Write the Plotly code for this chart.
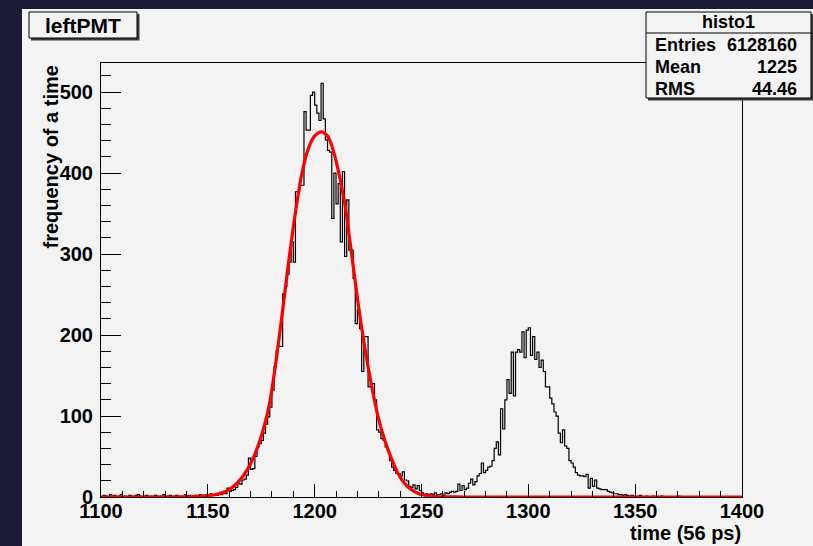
import plotly.graph_objects as go

# ---------------- data ----------------
bin_start = 1100
bin_width = 1
counts = (
    [0, 2, 1, 0, 3, 1, 2, 0, 1, 3, 0, 1, 0, 2, 1, 0, 2, 3, 1, 0,
     1, 2, 0, 1, 0, 2, 1, 0, 1, 3, 0, 1, 2, 0, 1, 2, 0, 1, 0, 3,
     1, 2, 1, 0, 2, 1, 3, 2, 1, 3, 2, 4, 3]
    + [3, 2, 4, 3, 5, 4, 11, 7, 8, 9, 12, 17, 16, 21, 22, 27]
    + [48, 34, 35, 50, 62, 66, 70, 79, 90, 99, 111, 132, 161, 181, 186, 186,
       251, 260, 275, 290, 315, 290]
    + [377, 377, 385, 385, 476, 453, 453, 496, 500, 484, 474, 465, 511, 467]
    + [441, 428, 426, 344, 400, 362, 387, 315, 402, 297, 367, 305, 305, 270,
       214, 231, 208, 155, 198, 198, 136, 140, 140, 120, 83, 80, 72, 70, 62,
       58, 45, 37, 33, 29, 29, 26, 31, 21, 20, 13, 12, 15, 10, 14, 8]
    + [5, 3, 4, 2, 4, 3, 5, 3]
    + [3, 4, 2, 5, 4, 6, 7, 6, 7, 16, 8, 14, 9, 11, 17, 22, 15, 19, 26, 29,
       42, 30, 33, 37, 38, 45, 60, 68, 52, 109, 84, 120, 145, 128, 179, 125,
       179, 182, 179, 204, 172, 206, 209, 175, 198, 170, 179, 160, 169, 155,
       136, 136]
    + [122, 115, 105, 100, 79, 67, 83, 63, 60, 45, 42, 37, 30, 27, 26, 26,
       25, 28, 11, 23, 13, 21, 11, 10, 9, 9]
    + [9, 7, 6, 5, 4, 4, 3, 3, 2, 3, 2, 1, 2, 1, 0, 1, 2, 0, 0, 1,
       0, 0, 1, 0, 0, 0, 1, 0, 0, 0, 0, 0, 0, 0, 1, 0, 0, 0, 0, 0,
       0, 0, 0, 0, 0, 0, 0, 0, 0, 0, 0, 0, 0, 0, 0, 0, 0, 0, 0, 0,
       0, 0, 0, 0]
)

# gaussian fit curve
fit_x = [1100, 1140, 1150, 1155, 1160, 1164, 1169, 1173.6, 1178.3, 1181.4,
         1184.5, 1187.7, 1190.8, 1193.9, 1197, 1200, 1203.3, 1206, 1208,
         1211, 1214.2, 1217.3, 1220.4, 1223.5, 1226.6, 1229.6, 1232.8, 1236,
         1239, 1242, 1245, 1248, 1251, 1257, 1270, 1400]
fit_y = [0, 0.2, 1.5, 4, 9, 18, 36, 64, 108, 158, 220, 288, 348, 398, 430,
         446, 451, 446, 434, 404, 360, 300, 238, 184, 138, 100, 70, 47, 29,
         17, 9.5, 5, 2.5, 0.5, 0, 0]

x_ticks = [1100, 1150, 1200, 1250, 1300, 1350, 1400]
y_ticks = [0, 100, 200, 300, 400, 500]

title_text = "leftPMT"
stats_name = "histo1"
stats_rows = [("Entries", "6128160"), ("Mean", "1225"), ("RMS", "44.46")]
x_title = "time (56 ps)"
y_title = "frequency of a time"

# ---------------- geometry ----------------
W, H = 813, 546
L, R, T, B = 101, 742, 63, 497
PW, PH = R - L, B - T


def px(x):
    return (x - L) / PW


def py(y):
    return (B - y) / PH


FONT = "Liberation Sans, Arial, Helvetica, sans-serif"
LIGHT = "#f3f3f3"
DARK = "#1b1b36"

edges = [bin_start + i * bin_width for i in range(len(counts) + 1)]
step_x = edges
step_y = counts + [counts[-1]]

fig = go.Figure()
fig.add_trace(go.Scatter(x=step_x, y=step_y, mode="lines", line_shape="hv",
                         line=dict(color="black", width=1.2), hoverinfo="skip",
                         showlegend=False))
fig.add_trace(go.Scatter(x=fit_x, y=fit_y, mode="lines", line_shape="spline",
                         line=dict(color="#ff0000", width=3.2, smoothing=0.8),
                         hoverinfo="skip", showlegend=False))

shapes = []
# light canvas over dark screenshot background
shapes.append(dict(type="rect", xref="paper", yref="paper", layer="below",
                   x0=px(22), x1=px(W + 5), y0=py(9), y1=py(H + 5),
                   fillcolor=LIGHT, line=dict(width=0)))
# title box with shadow
shapes.append(dict(type="rect", xref="paper", yref="paper", layer="above",
                   x0=px(31), x1=px(139.5), y0=py(14), y1=py(40.5),
                   fillcolor="#3a3a3a", line=dict(width=0)))
shapes.append(dict(type="rect", xref="paper", yref="paper", layer="above",
                   x0=px(29), x1=px(137), y0=py(12), y1=py(38),
                   fillcolor=LIGHT, line=dict(color="black", width=1)))
# stats box with shadow
shapes.append(dict(type="rect", xref="paper", yref="paper", layer="above",
                   x0=px(648), x1=px(813.5), y0=py(14), y1=py(100.5),
                   fillcolor="#3a3a3a", line=dict(width=0)))
shapes.append(dict(type="rect", xref="paper", yref="paper", layer="above",
                   x0=px(646), x1=px(811), y0=py(12), y1=py(98),
                   fillcolor=LIGHT, line=dict(color="black", width=1)))
shapes.append(dict(type="line", xref="paper", yref="paper", layer="above",
                   x0=px(646), x1=px(811), y0=py(33), y1=py(33),
                   line=dict(color="black", width=1)))

ann = []


def text(s, x, y, size, xanchor="center", textangle=0):
    ann.append(dict(text=s, x=px(x), y=py(y), xref="paper", yref="paper",
                    showarrow=False, xanchor=xanchor, yanchor="middle",
                    textangle=textangle,
                    font=dict(family=FONT, size=size, color="black",
                              weight="bold")))


text(title_text, 83, 25.5, 21)
text(stats_name, 728.5, 22.5, 18)
row_y = [44.5, 66.5, 88.5]
for (k, v), yy in zip(stats_rows, row_y):
    text(k, 653, yy, 18, xanchor="left")
    text(v, 799, yy, 18, xanchor="right")
text(x_title, 743, 533, 20, xanchor="right")
ann.append(dict(text=y_title, x=px(50), y=py(64), xref="paper", yref="paper",
                showarrow=False, xanchor="center", yanchor="top",
                textangle=-90,
                font=dict(family=FONT, size=20, color="black", weight="bold")))

axis_font = dict(family=FONT, size=20, color="black", weight="bold")
fig.update_layout(
    width=W, height=H,
    margin=dict(l=L, r=W - R, t=T, b=H - B, pad=0),
    paper_bgcolor=DARK, plot_bgcolor=LIGHT,
    shapes=shapes, annotations=ann, showlegend=False,
    xaxis=dict(range=[1100, 1400], tickvals=x_ticks, ticks="inside",
               ticklen=13, tickcolor="black", tickwidth=1,
               minor=dict(dtick=10, ticks="inside", ticklen=6.5,
                          tickcolor="black", showgrid=False),
               showline=True, linecolor="black", linewidth=1, mirror=True,
               showgrid=False, zeroline=False, tickfont=axis_font,
               ticklabelstandoff=-4),
    yaxis=dict(range=[0, 536], tickvals=y_ticks, ticks="inside",
               ticklen=20, tickcolor="black", tickwidth=1,
               minor=dict(dtick=20, ticks="inside", ticklen=10,
                          tickcolor="black", showgrid=False),
               showline=True, linecolor="black", linewidth=1, mirror=True,
               showgrid=False, zeroline=False, tickfont=axis_font,
               ticklabelstandoff=3),
)

fig.write_html("out.html",
               config={"displayModeBar": False},
               post_script="document.body.style.margin='0';"
                           "document.body.style.background='#1b1b36';")
